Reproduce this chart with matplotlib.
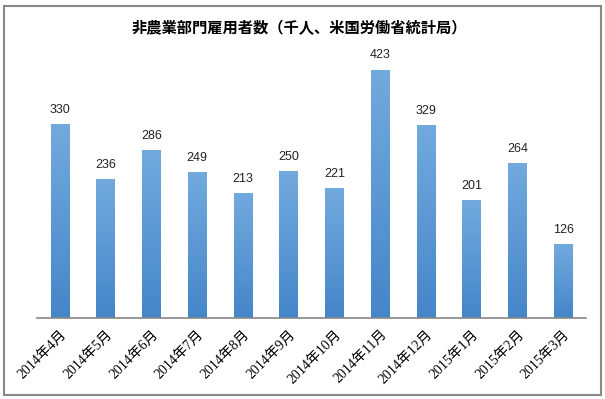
import matplotlib
matplotlib.use("Agg")
import matplotlib.pyplot as plt
import numpy as np
from matplotlib.colors import LinearSegmentedColormap
from matplotlib.patches import Rectangle

# 非農業部門雇用者数 (千人)
months = ["2014年4月", "2014年5月", "2014年6月", "2014年7月", "2014年8月", "2014年9月",
          "2014年10月", "2014年11月", "2014年12月", "2015年1月", "2015年2月", "2015年3月"]
jobs = [330, 236, 286, 249, 213, 250, 221, 423, 329, 201, 264, 126]
title = "非農業部門雇用者数（千人、米国労働省統計局）"

fig = plt.figure(figsize=(6.05, 3.99), dpi=100)
ax = fig.add_axes([37 / 605, 81 / 399, 549 / 605, 0.662])

# Excel-style gradient: lighter on top, darker at the bottom
cmap = LinearSegmentedColormap.from_list("bar", ["#4586c9", "#72aade"])
grad = np.linspace(0, 1, 256).reshape(-1, 1)
bars = ax.bar(range(len(jobs)), jobs, width=0.4, color="none")
for b, v in zip(bars, jobs):
    x0 = b.get_x()
    im = ax.imshow(grad, extent=[x0, x0 + b.get_width(), 0, v], origin="lower",
                   aspect="auto", cmap=cmap, zorder=2)
    im.set_clip_path(b)
    ax.text(b.get_x() + b.get_width() / 2, v + 14, str(v), ha="center", va="bottom",
            fontsize=9, family="Liberation Sans", color="#222222")

ax.set_xlim(-0.5, len(jobs) - 0.5)
ax.set_ylim(0, 450)
ax.set_yticks([])
ax.set_xticks(range(len(jobs)))
ax.set_xticklabels(months, rotation=45, ha="right", rotation_mode="anchor",
                   fontsize=10, family=["Liberation Serif", "Noto Sans CJK JP"])
ax.tick_params(axis="x", length=0, pad=7)
for s in ["top", "right", "left"]:
    ax.spines[s].set_visible(False)
ax.spines["bottom"].set_color("#888888")
ax.spines["bottom"].set_linewidth(1.2)

fig.text(0.495, 1 - 28 / 399, title, ha="center", va="center", fontsize=11,
         fontweight="bold", family="Noto Sans CJK JP")

# outer chart border
fig.patches.append(Rectangle((4 / 605, 4 / 399), 597 / 605, 389 / 399, transform=fig.transFigure,
                             fill=False, edgecolor="#888888", linewidth=1.5))

fig.savefig("out.png", dpi=100)
